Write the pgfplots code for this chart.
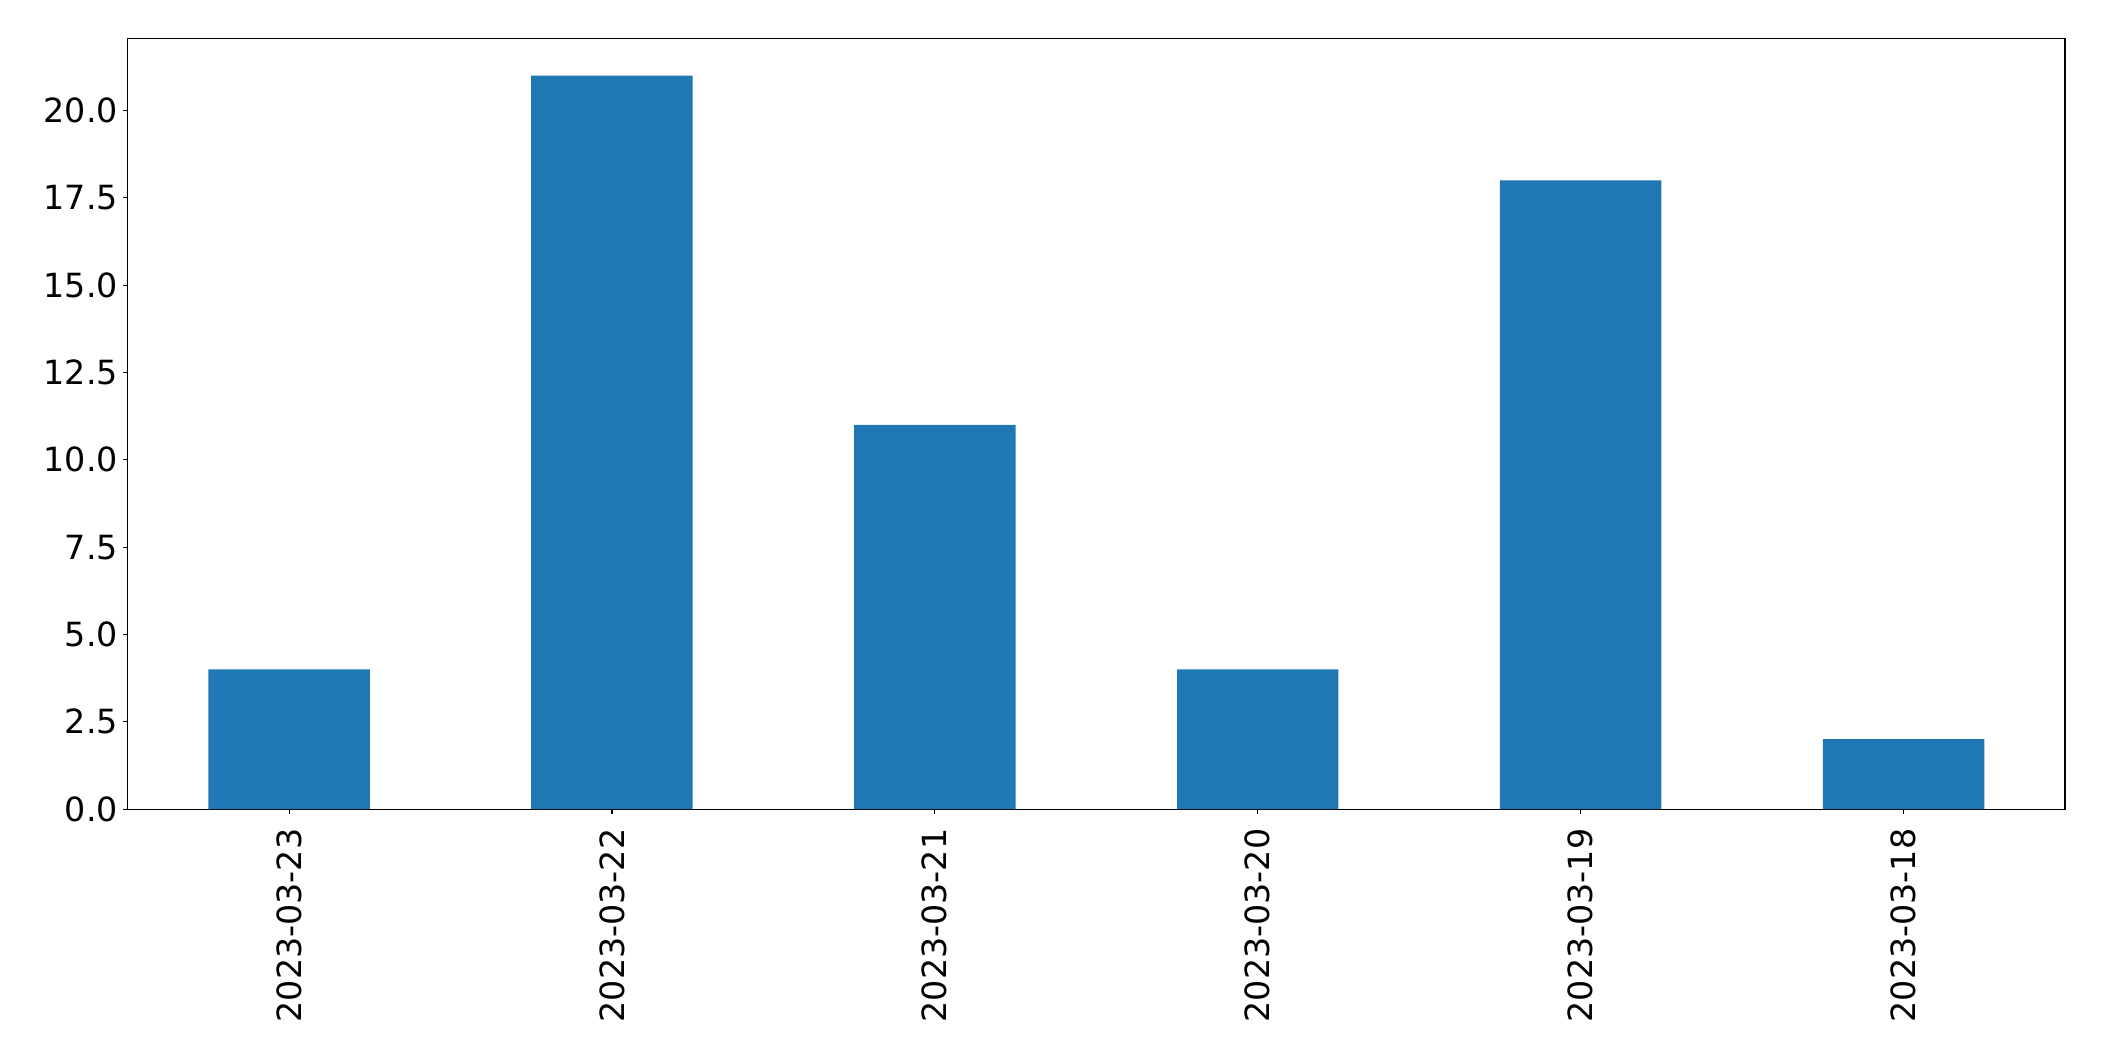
\documentclass[border=0pt]{standalone}
\usepackage{fontspec}
\setmainfont{DejaVu Sans}
\usepackage{pgfplots}
\pgfplotsset{compat=1.18}
\definecolor{tabblue}{HTML}{1F77B4}
\begin{document}
\begin{tikzpicture}
\begin{axis}[
  scale only axis,
  width=1395pt, height=554.6pt,
  xmin=-0.5, xmax=5.5, ymin=0, ymax=22.05,
  ybar, bar width=0.5,
  xtick={0,1,2,3,4,5},
  xticklabels={2023-03-23,2023-03-22,2023-03-21,2023-03-20,2023-03-19,2023-03-18},
  x tick label style={rotate=90, anchor=east},
  xticklabel shift=7pt,
  ytick={0,2.5,5,7.5,10,12.5,15,17.5,20},
  yticklabel style={/pgf/number format/fixed, /pgf/number format/fixed zerofill, /pgf/number format/precision=1},
  /pgf/number format/assume math mode=true,
  tick label style={font=\fontsize{24}{28}\selectfont},
  tick align=outside,
  xtick pos=left, ytick pos=left,
  major tick length=3.5pt,
  tick style={black, line width=0.8pt},
  axis line style={line width=0.8pt},
]
\addplot[fill=tabblue, draw=none] coordinates {(0,4) (1,21) (2,11) (3,4) (4,18) (5,2)};
\end{axis}
\pgfresetboundingbox
\path (current axis.south west) ++(-91.9pt,-181.3pt) coordinate (bl);
\path (current axis.north east) ++(28.1pt,28.0pt) coordinate (tr);
\path[use as bounding box] (bl) rectangle (tr);
\end{tikzpicture}
\end{document}
